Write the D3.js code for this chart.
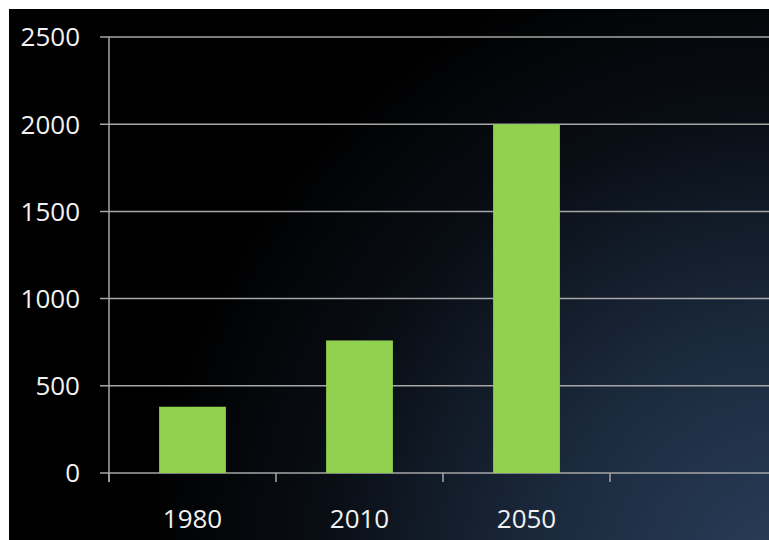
<!DOCTYPE html>
<html><head><meta charset="utf-8">
<script src="https://cdn.jsdelivr.net/npm/d3@7"></script>
<style>html,body{margin:0;padding:0;background:#fff;overflow:hidden}</style>
</head><body>
<script>
const categories = ["1980", "2010", "2050", ""];
const values = [380, 760, 2000, null];
const yTicks = [0, 500, 1000, 1500, 2000, 2500];

const W = 769, H = 540;
const svg = d3.select("body").append("svg").attr("width", W).attr("height", H);
const defs = svg.append("defs");
const g = defs.append("radialGradient").attr("id", "bg")
  .attr("gradientUnits", "userSpaceOnUse").attr("cx", 790).attr("cy", 580).attr("r", 650);
g.append("stop").attr("offset", 0).attr("stop-color", "#2a3f5b");
g.append("stop").attr("offset", 0.4).attr("stop-color", "#1a283b");
g.append("stop").attr("offset", 0.72).attr("stop-color", "#090e15");
g.append("stop").attr("offset", 1).attr("stop-color", "#000");
svg.append("rect").attr("x", 9).attr("y", 9).attr("width", W - 9).attr("height", H - 9).attr("fill", "url(#bg)");

const x = d3.scaleBand().domain(categories).range([109, 777]).paddingInner(0.6).paddingOuter(0.3);
const y = d3.scaleLinear().domain([0, 2500]).range([473, 37]);

// gridlines
svg.append("g").selectAll("line").data(yTicks).join("line")
  .attr("x1", 100).attr("x2", W).attr("y1", d => y(d)).attr("y2", d => y(d))
  .attr("stroke", "#a6a6a6").attr("stroke-width", 1.5);

// bars
svg.append("g").selectAll("rect").data(categories.map((c, i) => ({c, v: values[i]})).filter(d => d.v != null))
  .join("rect")
  .attr("x", d => x(d.c)).attr("width", x.bandwidth())
  .attr("y", d => y(d.v)).attr("height", d => y(0) - y(d.v))
  .attr("fill", "#92d050");

// y axis line
svg.append("line").attr("x1", 109).attr("x2", 109).attr("y1", y(2500)).attr("y2", y(0) + 9)
  .attr("stroke", "#a6a6a6").attr("stroke-width", 1.5);
// x axis ticks at band boundaries
const step = x.step();
svg.append("g").selectAll("line").data(categories).join("line")
  .attr("x1", d => x(d) - x.paddingOuter() * step).attr("x2", d => x(d) - x.paddingOuter() * step)
  .attr("y1", y(0)).attr("y2", y(0) + 9)
  .attr("stroke", "#a6a6a6").attr("stroke-width", 1.5);

// y labels
svg.append("g").selectAll("text").data(yTicks).join("text")
  .attr("x", 80).attr("y", d => y(d)).attr("dy", "0.36em")
  .attr("text-anchor", "end").attr("fill", "#f2f2f2")
  .attr("font-family", "Open Sans, sans-serif").attr("font-size", 26)
  .text(d => d);

// x labels
svg.append("g").selectAll("text").data(categories).join("text")
  .attr("x", d => x(d) + x.bandwidth() / 2).attr("y", 528)
  .attr("text-anchor", "middle").attr("fill", "#f2f2f2")
  .attr("font-family", "Open Sans, sans-serif").attr("font-size", 26)
  .text(d => d);
</script>
</body></html>
